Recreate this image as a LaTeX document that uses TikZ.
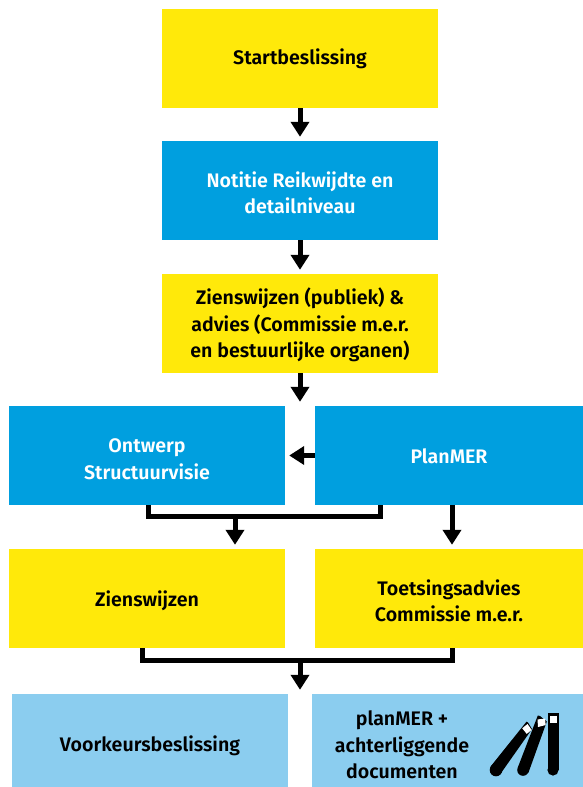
\documentclass[tikz,border=0pt]{standalone}
\usepackage{fontspec}
\setmainfont{Fira Sans}[BoldFont={Fira Sans SemiBold}]
\usetikzlibrary{arrows.meta,calc}
\definecolor{geel}{HTML}{FFE90A}
\definecolor{blauw}{HTML}{009FDF}
\definecolor{lichtblauw}{HTML}{8BCDEF}
\tikzset{
  x=1pt,y=-1pt,
  box/.style={inner sep=0pt},
  geelbox/.style={box,fill=geel},
  blauwbox/.style={box,fill=blauw},
  lichtbox/.style={box,fill=lichtblauw},
  label/.style={inner sep=0pt,align=center,font=\fontsize{19.6}{26.5}\selectfont\bfseries},
  pijl/.style={line width=5pt,-{Triangle[width=18pt,length=15pt]},shorten >=4pt},
  lijn/.style={line width=5pt,line cap=butt,line join=miter}
}
\newcommand{\bx}[9]{\node[#1,minimum width=#4pt-#3pt,minimum height=#6pt-#5pt] (#2) at ({(#3+#4)/2},{(#5+#6)/2}) {};
 \node[label,text=#9] (#2t) at ({(#3+#4)/2},#8) {#7};}
\begin{document}
\begin{tikzpicture}
\useasboundingbox (0,0) rectangle (583,787);
\bx{geelbox}{start}{162}{438}{9}{108}{Startbeslissing}{59}{black}
\bx{blauwbox}{notitie}{162}{438}{141}{240}{Notitie Reikwijdte en\\detailniveau}{193}{white}
\bx{geelbox}{zien}{162}{438}{274}{373}{Zienswijzen (publiek) \&\\advies (Commissie m.e.r.\\en bestuurlijke organen)}{325}{black}
\bx{blauwbox}{ontwerp}{9}{285}{406}{505}{Ontwerp\\Structuurvisie}{459}{white}
\bx{blauwbox}{planmer}{315}{583}{406}{505}{PlanMER}{456.5}{white}
\bx{geelbox}{zien2}{9}{285}{549}{648}{Zienswijzen}{601}{black}
\bx{geelbox}{toets}{315}{583}{549}{648}{Toetsingsadvies\\Commissie m.e.r.}{601}{black}
\bx{lichtbox}{voorkeur}{12}{288}{694}{787}{Voorkeursbeslissing}{746}{black}
\node[lichtbox,minimum width=271pt,minimum height=93pt] (docs) at (447.5,740.5) {};
\node[label] (docstext) at (402,745) {planMER +\\achterliggende\\documenten};
% connectors
\draw[pijl] (start.south) -- (notitie.north);
\draw[pijl] (notitie.south) -- (zien.north);
\draw[pijl] (zien.south) -- (zien.south |- ontwerp.north);
\draw[pijl] (planmer.west) -- (ontwerp.east);
\coordinate (busL) at (148,516);
\coordinate (busR) at (380,516);
\coordinate (busM) at (235,516);
\draw[lijn] (busL |- ontwerp.south) -- (busL) -- (busR) -- (busR |- planmer.south);
\draw[pijl] (busM) -- (busM |- zien2.north);
\coordinate (tx) at (452,505);
\draw[pijl] (tx |- planmer.south) -- (tx |- toets.north);
\coordinate (bus2L) at (142,660);
\coordinate (bus2R) at (452.5,660);
\coordinate (bus2M) at (300,660);
\draw[lijn] (bus2L |- zien2.south) -- (bus2L) -- (bus2R) -- (bus2R |- toets.south);
\draw[pijl] (bus2M) -- (bus2M |- voorkeur.north);
% books
\fill[black] (490.6,766.5) -- (526.5,721.7) -- (528,722.5) -- (532,729) -- (500.7,773.5) -- cycle;
\fill[black] (496,770) circle[radius=6.3pt];
\fill[white] (522.2,728.3) -- (527.5,724) -- (531.7,730) -- (526.7,733.8) -- cycle;
\fill[black] (517.8,767.5) -- (537.8,715.5) -- (540,716) -- (546.8,721.5) -- (528.5,772.5) -- cycle;
\fill[black] (523,770) circle[radius=5.8pt];
\fill[white] (537.5,719.5) -- (545,718.5) -- (545.7,725) -- (538,727) -- cycle;
\fill[black] (547.5,713.3) rectangle (558.7,770);
\fill[black] (553,770) circle[radius=5.6pt];
\fill[white] (550,716) rectangle (556.9,722.5);
\end{tikzpicture}
\end{document}
